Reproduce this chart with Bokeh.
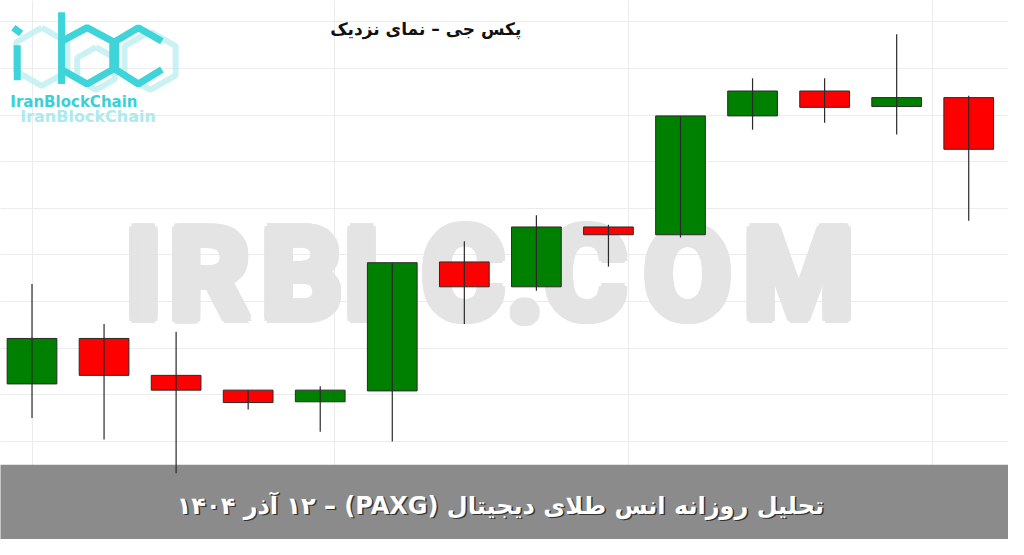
from bokeh.plotting import figure
from bokeh.models import Range1d, FixedTicker
from bokeh.core.properties import value
from bokeh.embed import file_html
from bokeh.resources import INLINE

# ---- data (PAXG close-up candles) ----
idx = list(range(14))
open_ = [4168.8, 4180.5, 4171.0, 4167.2, 4164.2, 4167.0, 4200.2, 4193.8, 4209.2, 4207.2, 4237.8, 4244.2, 4240.2, 4242.5]
close = [4180.5, 4171.0, 4167.2, 4164.0, 4167.2, 4200.0, 4193.8, 4209.2, 4207.2, 4237.8, 4244.2, 4240.0, 4242.5, 4229.2]
high = [4194.5, 4184.2, 4182.2, 4167.2, 4168.2, 4200.0, 4205.5, 4212.2, 4209.8, 4237.8, 4247.5, 4247.5, 4258.8, 4243.0]
low = [4160.0, 4154.5, 4145.8, 4162.2, 4156.5, 4154.0, 4184.2, 4192.8, 4199.0, 4206.5, 4234.2, 4236.0, 4233.0, 4210.8]
price_grid = [4154, 4166, 4178, 4190, 4202, 4214, 4226, 4238, 4250, 4262]
time_grid = [0, 4.2, 8.28, 12.5]

title_text = "پکس جی – نمای نزدیک"
banner_text = "\u202bتحلیل روزانه  انس طلای دیجیتال (PAXG) – ۱۲ آذر ۱۴۰۴\u202c"
watermark = "IRBLC.COM"
brand = "IranBlockChain"

W, H = 1008, 539
RW, RH = 1024.0, 555.0          # layout of the original picture
X0, X1 = -0.4372, 13.552
Y0, Y1 = 4128.75, 4267.5


# helpers to place decorations at picture positions (picture px -> data)
def px(xr):
    return X0 + xr * (X1 - X0) / RW


def py(yr):
    return Y1 - yr * (Y1 - Y0) / RH


def fs(v):
    return "%dpx" % round(v * W / RW)


p = figure(width=W, height=H, output_backend="svg", toolbar_location=None,
           x_range=Range1d(X0, X1), y_range=Range1d(Y0, Y1),
           x_axis_location=None, y_axis_location=None, min_border=0)
p.outline_line_color = None
p.background_fill_color = "white"
p.border_fill_color = "white"

p.ygrid.ticker = FixedTicker(ticks=price_grid)
p.xgrid.ticker = FixedTicker(ticks=time_grid)
p.grid.grid_line_color = "#ececec"
p.grid.grid_line_width = 1
p.grid.minor_grid_line_color = None

# bottom banner
p.quad(left=[px(-5)], right=[px(1030)], top=[py(478)], bottom=[py(560)],
       fill_color="#8b8b8b", line_color=None)

# watermark: letters spaced out, heavy weight by stacking shifted copies
letter_pos = [145, 212, 306, 384, 470, 533, 594, 698, 811]
wx, wy, wt = [], [], []
for ch, cxp in zip(watermark, letter_pos):
    for dx in (-5, -2.5, 0, 2.5, 5):
        for dy in (-5, -2.5, 0, 2.5, 5):
            if dx * dx + dy * dy <= 32:
                wx.append(px(cxp + dx))
                wy.append(py(283 + dy))
                wt.append(ch)
p.text(x=wx, y=wy, text=wt, text_align="center",
       text_baseline="middle", text_font=value("Roboto"), text_font_style="bold",
       text_font_size=fs(128), text_color="#e4e4e4")

# candles
up = [c >= o for o, c in zip(open_, close)]
colors = ["#008000" if u else "#ff0000" for u in up]
tops = [max(o, c) for o, c in zip(open_, close)]
bots = [min(o, c) for o, c in zip(open_, close)]
p.vbar(x=idx, width=0.69, top=tops, bottom=bots, fill_color=colors,
       line_color="#2a2a2a", line_width=1)
p.segment(x0=idx, y0=high, x1=idx, y1=low, line_color="#2a2a2a", line_width=1.2)

# title
p.text(x=[px(432)], y=[py(29)], text=[title_text], text_align="center",
       text_baseline="middle", text_font=value("DejaVu Sans"), text_font_style="bold",
       text_font_size=fs(17.5), text_color="#111111")

# banner text with shadow
p.text(x=[px(513.5)], y=[py(522)], text=[banner_text], text_align="center",
       text_baseline="middle", text_font=value("DejaVu Sans"), text_font_style="bold",
       text_font_size=fs(24), text_color="#333333")
p.text(x=[px(512)], y=[py(520)], text=[banner_text], text_align="center",
       text_baseline="middle", text_font=value("DejaVu Sans"), text_font_style="bold",
       text_font_size=fs(24), text_color="white")

# logo (decoration)
faint = "#bdeff1"
cyan = "#3fd4da"
hexes = [(42, 58, 30), (152, 62, 30), (97, 70, 22)]
for cx, cy, r in hexes:
    xs = [cx, cx + 0.866 * r, cx + 0.866 * r, cx, cx - 0.866 * r, cx - 0.866 * r, cx]
    ys = [cy - r, cy - r / 2, cy + r / 2, cy + r, cy + r / 2, cy - r / 2, cy - r]
    p.line([px(v) for v in xs], [py(v) for v in ys], line_color=faint, line_width=6, alpha=0.8)
# i
p.line([px(17), px(17)], [py(46), py(82)], line_color=cyan, line_width=7)
p.line([px(13), px(21)], [py(28), py(34)], line_color=cyan, line_width=7)
# b
p.line([px(62), px(62)], [py(12), py(86)], line_color=cyan, line_width=7)
bx = [62, 88, 114, 114, 88, 62]
by = [42, 28, 42, 71, 86, 71]
p.line([px(v) for v in bx], [py(v) for v in by], line_color=cyan, line_width=7)
# c
cxs = [164, 140, 117, 117, 140, 164]
cys = [42, 28, 42, 71, 86, 71]
p.line([px(v) for v in cxs], [py(v) for v in cys], line_color=cyan, line_width=7)

p.text(x=[px(10)], y=[py(104)], text=[brand], text_align="left", text_baseline="alphabetic",
       text_font=value("DejaVu Sans"), text_font_style="bold", text_font_size=fs(15.5),
       text_color="#3ccfd6")
p.text(x=[px(20)], y=[py(119)], text=[brand], text_align="left", text_baseline="alphabetic",
       text_font=value("DejaVu Sans"), text_font_style="bold", text_font_size=fs(16.5),
       text_color="#aee9ed")

open("out.html", "w").write(file_html(p, INLINE))
